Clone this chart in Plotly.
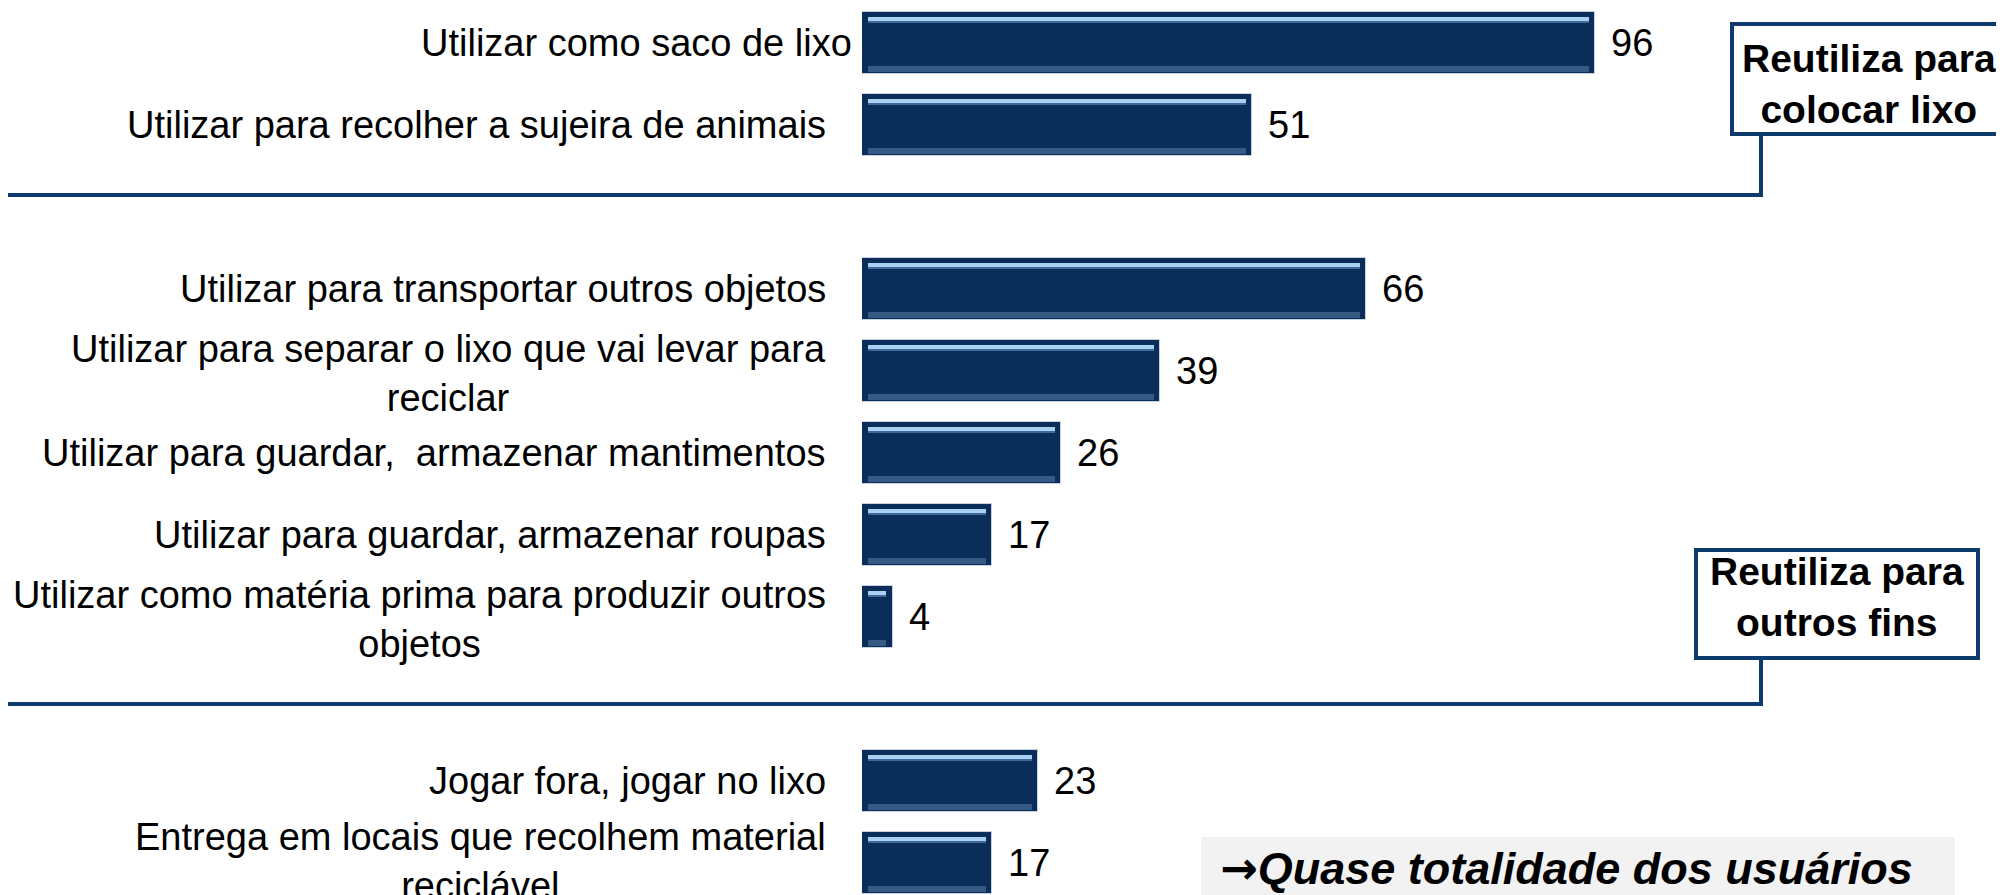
import plotly.graph_objects as go

# ---- data ----
labels = [
    "Utilizar como saco de lixo",
    "Utilizar para recolher a sujeira de animais",
    "Utilizar para transportar outros objetos",
    "Utilizar para separar o lixo que vai levar para<br>reciclar",
    "Utilizar para guardar,  armazenar mantimentos",
    "Utilizar para guardar, armazenar roupas",
    "Utilizar como matéria prima para produzir outros<br>objetos",
    "Jogar fora, jogar no lixo",
    "Entrega em locais que recolhem material<br>reciclável",
]
values = [96, 51, 66, 39, 26, 17, 4, 23, 17]
slots = [0, 1, 3, 4, 5, 6, 7, 9, 10]
group_titles = ["Reutiliza para<br>colocar lixo", "Reutiliza para<br>outros fins"]
note_arrow = "\u2192"
note_text = "Quase totalidade dos usuários"

# ---- layout geometry (page pixels; the page body adds an 8px offset) ----
OFF = 8
W, H = 2004 - OFF, 895 - OFF
ML = 862 - OFF
PX_PER_UNIT = 7.64
X_MAX = (W - ML) / PX_PER_UNIT
SLOT_PX = 82.0
Y_TOP = -(43 - OFF) / SLOT_PX
Y_BOT = Y_TOP + H / SLOT_PX

NAVY = "#0a2d5a"
LINE = "#0e3a6d"
FONT = "Liberation Sans, Arial, sans-serif"


def px(xp):
    return (xp - OFF - ML) / (W - ML)


def py(yp):
    return 1 - (yp - OFF) / H


fig = go.Figure()

BW = 0.75
inset = 0.8
fig.add_trace(go.Bar(
    y=slots, x=values, orientation="h", width=BW,
    marker=dict(color=NAVY, line=dict(color="#c9d3df", width=1)),
    hoverinfo="skip", showlegend=False,
))
# bevel highlight (top) and lighter bottom edge
fig.add_trace(go.Bar(
    y=slots, x=[max(v - 2 * inset, 0.3) for v in values], base=inset,
    orientation="h", width=0.05, offset=-BW / 2 + 0.055,
    marker=dict(color="#a9d1f2", line=dict(width=0)),
    hoverinfo="skip", showlegend=False,
))
fig.add_trace(go.Bar(
    y=slots, x=[max(v - 2 * inset, 0.3) for v in values], base=inset,
    orientation="h", width=0.03, offset=-BW / 2 + 0.105,
    marker=dict(color="#3f6a99", line=dict(width=0)),
    hoverinfo="skip", showlegend=False,
))
fig.add_trace(go.Bar(
    y=slots, x=[max(v - 2 * inset, 0.3) for v in values], base=inset,
    orientation="h", width=0.07, offset=BW / 2 - 0.09,
    marker=dict(color="#365a83", line=dict(width=0)),
    hoverinfo="skip", showlegend=False,
))

annotations = []
for i, (lab, s, v) in enumerate(zip(labels, slots, values)):
    multi = "<br>" in lab
    annotations.append(dict(
        x=0, xref="paper", y=s, yref="y", text=lab,
        xanchor="right", yanchor="middle", align="center",
        xshift=-8 if i == 0 else -34, yshift=-2 if (multi and i < 8) else 2 if multi else 0,
        showarrow=False,
        font=dict(family=FONT, size=38, color="#000000"),
    ))
    annotations.append(dict(
        x=v, xref="x", y=s, yref="y", text=str(v),
        xanchor="left", yanchor="middle", xshift=14, showarrow=False,
        font=dict(family=FONT, size=38, color="#000000"),
    ))

# group boxes text
annotations.append(dict(
    x=px(1869), xref="paper", y=py(84), yref="paper", text="<b>" + group_titles[0] + "</b>",
    xanchor="center", yanchor="middle", align="center", showarrow=False,
    font=dict(family=FONT, size=39, color="#000000"),
))
annotations.append(dict(
    x=px(1837), xref="paper", y=py(597), yref="paper", text="<b>" + group_titles[1] + "</b>",
    xanchor="center", yanchor="middle", align="center", showarrow=False,
    font=dict(family=FONT, size=39, color="#000000"),
))
annotations.append(dict(
    x=px(1218), xref="paper", y=py(868), yref="paper",
    text="<b><span style='font-family:DejaVu Sans'>" + note_arrow + "</span><i>" + note_text + "</i></b>",
    xanchor="left", yanchor="middle", align="left", showarrow=False,
    font=dict(family=FONT, size=45, color="#000000"),
))

shapes = [
    # separators with connectors
    dict(type="path", xref="paper", yref="paper",
         path=f"M {px(7)},{py(195)} L {px(1761)},{py(195)} L {px(1761)},{py(134)}",
         line=dict(color=LINE, width=4)),
    dict(type="path", xref="paper", yref="paper",
         path=f"M {px(7)},{py(704)} L {px(1761)},{py(704)} L {px(1761)},{py(658)}",
         line=dict(color=LINE, width=4)),
    # box 1
    dict(type="rect", xref="paper", yref="paper",
         x0=px(1732), x1=px(2014), y0=py(134), y1=py(24),
         line=dict(color=LINE, width=4), fillcolor="white"),
    # box 2
    dict(type="rect", xref="paper", yref="paper",
         x0=px(1696), x1=px(1978), y0=py(658), y1=py(550),
         line=dict(color=LINE, width=4), fillcolor="white"),
    # note box
    dict(type="rect", xref="paper", yref="paper",
         x0=px(1201), x1=px(1955), y0=py(910), y1=py(837),
         line=dict(width=0), fillcolor="#f2f2f2", layer="below"),
]

fig.update_layout(
    width=W, height=H,
    margin=dict(l=ML, r=0, t=0, b=0),
    paper_bgcolor="white", plot_bgcolor="white",
    barmode="overlay", bargap=0,
    xaxis=dict(range=[0, X_MAX], visible=False),
    yaxis=dict(range=[Y_BOT, Y_TOP], visible=False),
    annotations=annotations, shapes=shapes,
    showlegend=False,
)

fig.write_html("out.html")
